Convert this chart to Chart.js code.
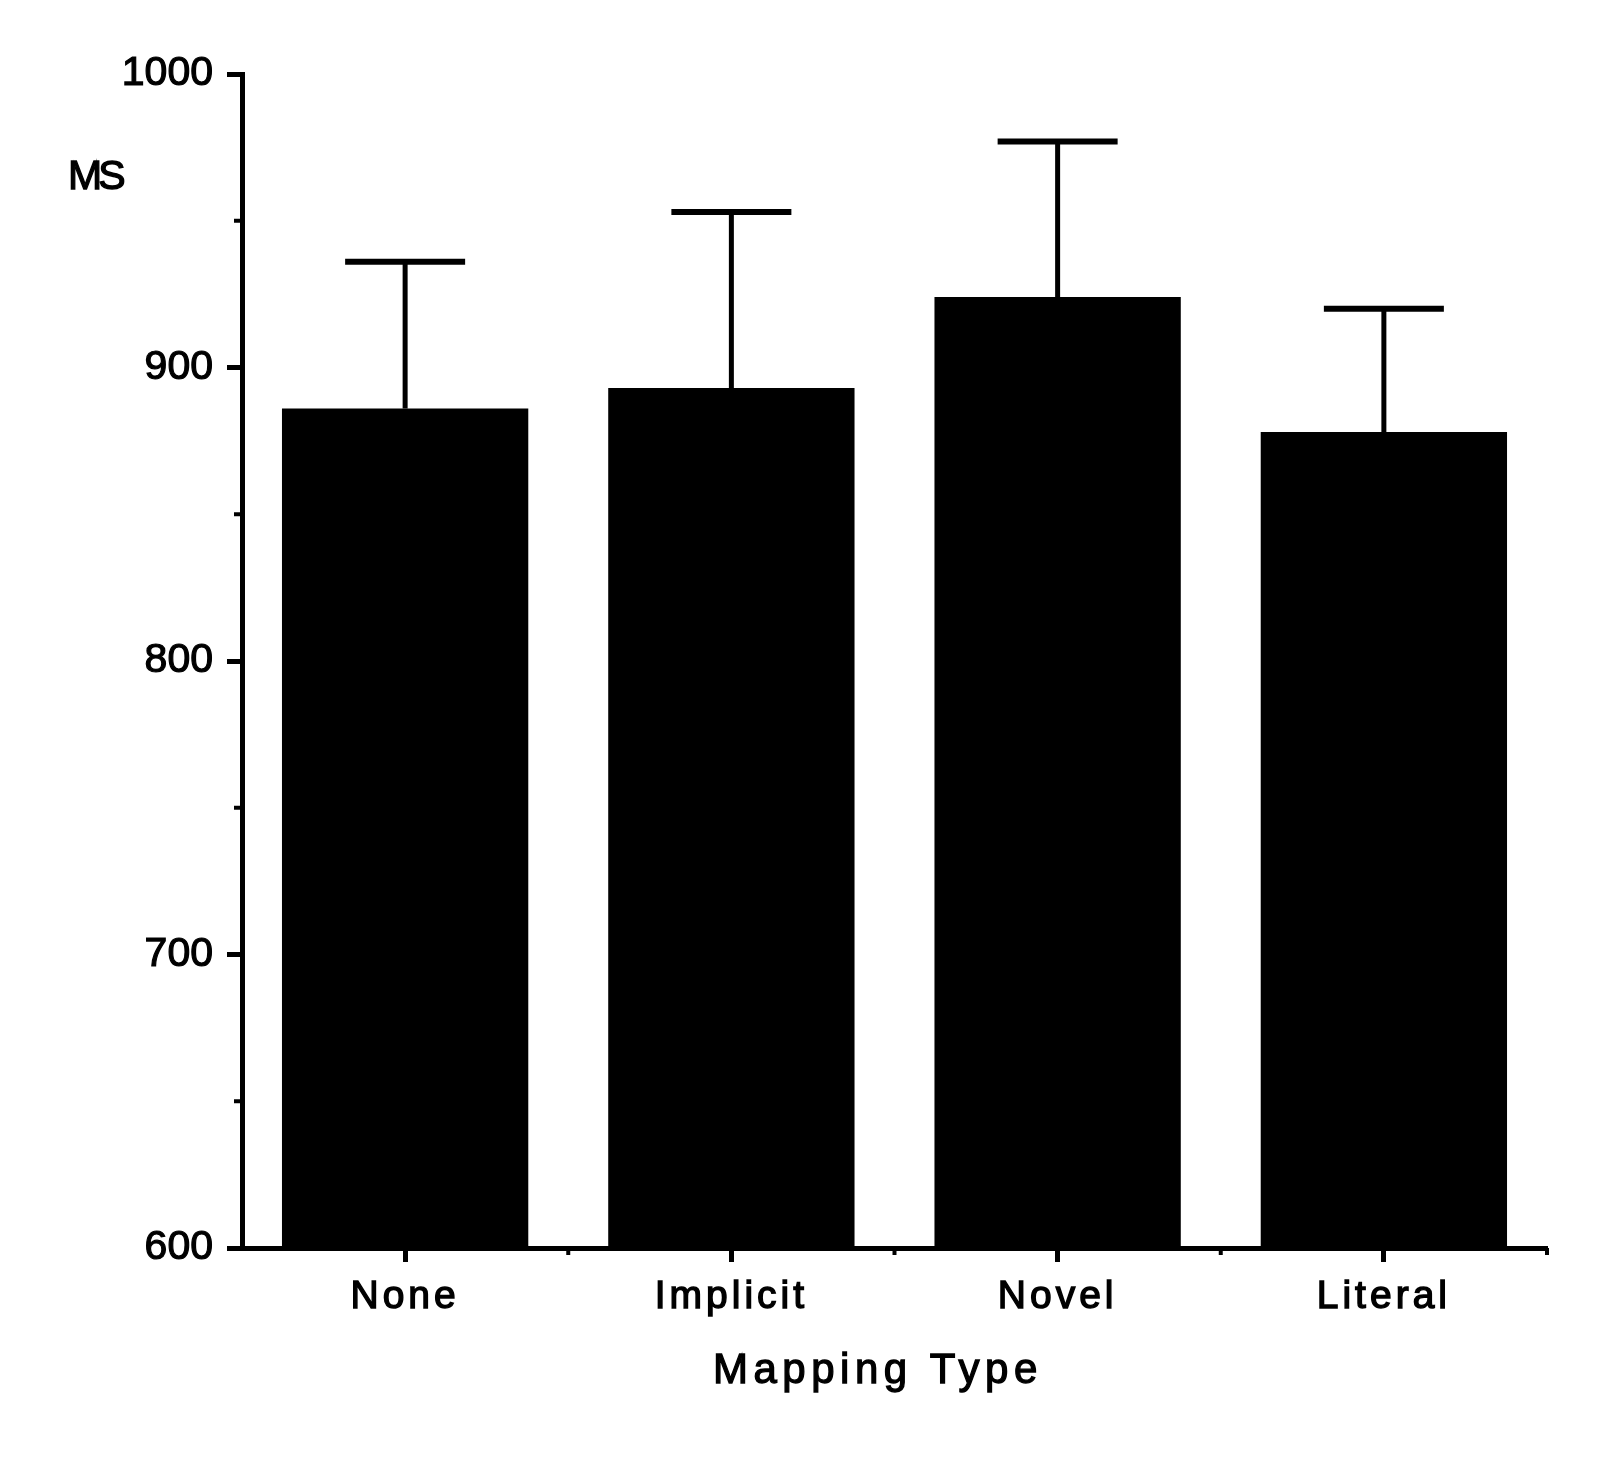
<!DOCTYPE html>
<html>
<head>
<meta charset="utf-8">
<script src="https://cdn.jsdelivr.net/npm/chart.js@4.4.1/dist/chart.umd.min.js"></script>
<style>
  html, body { margin: 0; background: #fff; }
  canvas { display: block; }
</style>
</head>
<body>
<canvas id="rt-chart" width="1600" height="1458"></canvas>
<script>
// data
const categories = ['None', 'Implicit', 'Novel', 'Literal'];
const meanRT = [886, 893, 924, 878];
const errorRT = [50, 60, 53, 42];
const yTickValues = [600, 700, 800, 900, 1000];
const yMinorTicks = [650, 750, 850, 950];
const xTitle = 'Mapping Type';
const yTitle = 'MS';

const FONT = '"Liberation Sans", Arial, Helvetica, sans-serif';

// draws text a little heavier, like the scanned original
function heavyText(ctx, text, x, y, size, spacing) {
    ctx.save();
    ctx.letterSpacing = spacing + 'px';
    ctx.fillStyle = '#000';
    ctx.strokeStyle = '#000';
    ctx.lineWidth = 1.3;
    ctx.font = size + 'px ' + FONT;
    ctx.textAlign = 'left';
    ctx.textBaseline = 'alphabetic';
    ctx.fillText(text, x, y);
    ctx.strokeText(text, x, y);
    ctx.restore();
}

// error bars, minor ticks and axis titles
const extras = {
    id: 'extras',
    beforeDraw(chart) {
        chart.ctx.letterSpacing = '0px';
    },
    afterDatasetsDraw(chart) {
        const ctx = chart.ctx;
        const x = chart.scales.x;
        const y = chart.scales.y;
        const area = chart.chartArea;
        ctx.save();
        ctx.strokeStyle = '#000';
        ctx.lineCap = 'butt';

        meanRT.forEach((m, i) => {
            const px = x.getPixelForValue(i);
            const top = y.getPixelForValue(m + errorRT[i]);
            const base = y.getPixelForValue(m);
            ctx.lineWidth = 5;
            ctx.beginPath();
            ctx.moveTo(px, base);
            ctx.lineTo(px, top);
            ctx.stroke();
            ctx.lineWidth = 6;
            ctx.beginPath();
            ctx.moveTo(px - 60, top);
            ctx.lineTo(px + 60, top);
            ctx.stroke();
        });

        ctx.lineWidth = 4;
        yMinorTicks.forEach(v => {
            const py = y.getPixelForValue(v);
            ctx.beginPath();
            ctx.moveTo(area.left - 8, py);
            ctx.lineTo(area.left, py);
            ctx.stroke();
        });
        categories.forEach((c, i) => {
            const px = (x.getPixelForValue(i) + x.getPixelForValue(i + 1)) / 2;
            ctx.beginPath();
            ctx.moveTo(px, area.bottom);
            ctx.lineTo(px, area.bottom + 7);
            ctx.stroke();
        });
        ctx.restore();

        // x labels are drawn after this, spaced out like the original
        ctx.letterSpacing = '4px';
    },
    afterDraw(chart) {
        const ctx = chart.ctx;
        ctx.letterSpacing = '0px';
        heavyText(ctx, yTitle, 68, 189, 41, -4);
        heavyText(ctx, xTitle, 713, 1383, 42, 5.5);
    }
};

new Chart(document.getElementById('rt-chart'), {
    type: 'bar',
    data: {
        labels: categories,
        datasets: [{
            data: meanRT,
            backgroundColor: '#000',
            borderWidth: 0,
            barPercentage: 0.755,
            categoryPercentage: 1
        }]
    },
    options: {
        responsive: false,
        animation: false,
        devicePixelRatio: 1,
        layout: { padding: { top: 74, right: 53, left: 0, bottom: 0 } },
        plugins: {
            legend: { display: false },
            tooltip: { enabled: false }
        },
        scales: {
            x: {
                afterFit(scale) { scale.height = 210; },
                grid: {
                    offset: false,
                    drawOnChartArea: false,
                    drawTicks: true,
                    tickLength: 14,
                    tickWidth: 5,
                    tickColor: '#000',
                    z: 1
                },
                border: { display: true, color: '#000', width: 5, z: 1 },
                ticks: {
                    z: 1,
                    color: '#000',
                    textStrokeColor: '#000',
                    textStrokeWidth: 1.4,
                    padding: 12,
                    maxRotation: 0,
                    font: { family: FONT, size: 39 }
                },
                title: { display: false }
            },
            y: {
                min: 600,
                max: 1000,
                afterFit(scale) { scale.width = 242; },
                afterBuildTicks(scale) {
                    scale.ticks = yTickValues.map(v => ({ value: v }));
                },
                grid: {
                    drawOnChartArea: false,
                    drawTicks: true,
                    tickLength: 15,
                    tickWidth: 5,
                    tickColor: '#000'
                },
                border: { display: true, color: '#000', width: 5 },
                ticks: {
                    color: '#000',
                    textStrokeColor: '#000',
                    textStrokeWidth: 1.2,
                    padding: 14,
                    font: { family: FONT, size: 41 },
                    callback: v => String(v)
                }
            }
        }
    },
    plugins: [extras]
});
</script>
</body>
</html>
